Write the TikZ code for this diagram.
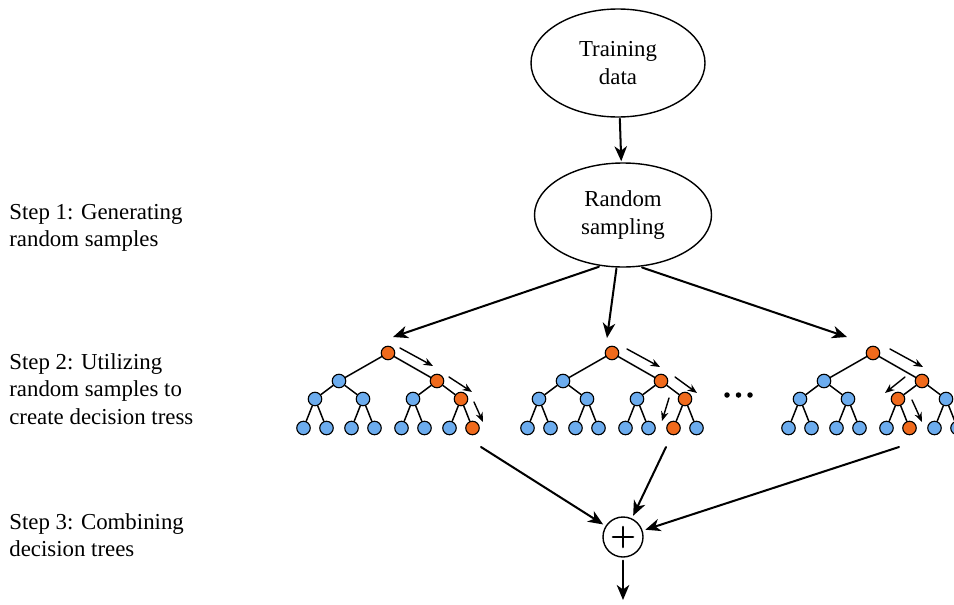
\documentclass[tikz,border=0pt]{standalone}
\usepackage{fontspec}
\setmainfont{Liberation Serif}
\usepackage{tikz}
\usetikzlibrary{arrows.meta,shapes.geometric}
\usepackage{xcolor}
\definecolor{leafblue}{RGB}{108,172,238}
\definecolor{pathorange}{RGB}{240,106,28}

\begin{document}
\begin{tikzpicture}[>={Stealth[length=3mm,width=2.5mm,inset=0.9mm]},font=\fontsize{13}{15.5}\selectfont,line cap=round,
  blob/.style={draw,ellipse,line width=0.8pt,inner sep=0pt,outer sep=1pt,align=center},
  tnode/.style={draw,circle,line width=0.65pt,minimum size=0.27cm,inner sep=0pt},
  twig/.style={line width=0.85pt},
  arr/.style={->,line width=1.15pt},
  hint/.style={-{Stealth[length=1.9mm,width=1.5mm]},line width=0.8pt},
  steptext/.style={anchor=west,align=left,inner sep=0pt}]
\useasboundingbox (0,0) rectangle (19.08,12.08);
\node[blob,minimum width=3.48cm,minimum height=2.16cm] (tr) at (12.36,10.82) {Training\\data};
\node[blob,minimum width=3.54cm,minimum height=2.08cm] (rs) at (12.46,7.78) {Random\\sampling};
\draw[arr] (tr) -- (rs);
% the three trees, orange path given by level-2 and leaf index
\foreach \k/\rx/\oc/\od in {1/7.76/4/8,2/12.24/4/7,3/17.46/3/6} {
  \begin{scope}[shift={(\rx,5.02)}]
  \node[tnode,fill=pathorange] (t\k-r) at (0,0) {};
  \node[tnode,fill=leafblue] (t\k-a1) at (-0.98,-0.56) {};
  \node[tnode,fill=pathorange] (t\k-a2) at (0.98,-0.56) {};
  \draw[twig] (t\k-r) -- (t\k-a1) (t\k-r) -- (t\k-a2);
  \foreach \i/\x/\p in {1/-1.46/1,2/-0.50/1,3/0.50/2,4/1.46/2} {
    \ifnum\i=\oc\relax \def\col{pathorange}\else \def\col{leafblue}\fi
    \node[tnode,fill=\col] (t\k-b\i) at (\x,-0.92) {};
    \draw[twig] (t\k-a\p) -- (t\k-b\i);
  }
  \foreach \m/\x/\p in {1/-1.69/1,2/-1.23/1,3/-0.73/2,4/-0.27/2,5/0.27/3,6/0.73/3,7/1.23/4,8/1.69/4} {
    \ifnum\m=\od\relax \def\col{pathorange}\else \def\col{leafblue}\fi
    \node[tnode,fill=\col] (t\k-c\m) at (\x,-1.50) {};
    \draw[twig] (t\k-b\p) -- (t\k-c\m);
  }
  \end{scope}
}
% small arrows along the decision paths
\foreach \xa/\ya/\xb/\yb in {8.00/5.12/8.66/4.76,8.98/4.54/9.44/4.24,9.48/4.04/9.66/3.64,
  12.54/5.10/13.20/4.74,13.50/4.54/13.94/4.22,13.38/4.12/13.24/3.66,
  17.80/5.10/18.46/4.74,18.10/4.54/17.70/4.22,18.24/4.08/18.44/3.64}
  \draw[hint] (\xa,\ya) -- (\xb,\yb);
\foreach \x in {14.54,14.77,15.00} \fill (\x,4.18) circle (0.055);
\coordinate (in1) at (7.86,5.34);
\coordinate (in2) at (12.14,5.32);
\coordinate (in3) at (16.94,5.34);
\draw[arr] (rs.-115) -- (in1);
\draw[arr] (rs.-97) -- (in2);
\draw[arr] (rs.-70) -- (in3);
\node[draw,circle,line width=0.8pt,minimum size=0.8cm,outer sep=2pt,
  path picture={\draw[line width=1.5pt] ([xshift=-0.2cm]path picture bounding box.center) -- ([xshift=0.2cm]path picture bounding box.center)
    ([yshift=-0.2cm]path picture bounding box.center) -- ([yshift=0.2cm]path picture bounding box.center);}] (plus) at (12.46,1.34) {};
\coordinate (out1) at (9.62,3.14);
\coordinate (out2) at (13.32,3.14);
\coordinate (out3) at (17.98,3.14);
\coordinate (res) at (12.46,0.08);
\draw[arr] (out1) -- (plus);
\draw[arr] (out2) -- (plus);
\draw[arr] (out3) -- (plus);
\draw[arr] (plus) -- (res);
\node[steptext] (s1) at (0.18,7.52) {Step 1: Generating\\random samples};
\node[steptext] (s2) at (0.18,4.30) {Step 2: Utilizing\\random samples to\\create decision tress};
\node[steptext] (s3) at (0.18,1.38) {Step 3: Combining\\decision trees};
\end{tikzpicture}
\end{document}
